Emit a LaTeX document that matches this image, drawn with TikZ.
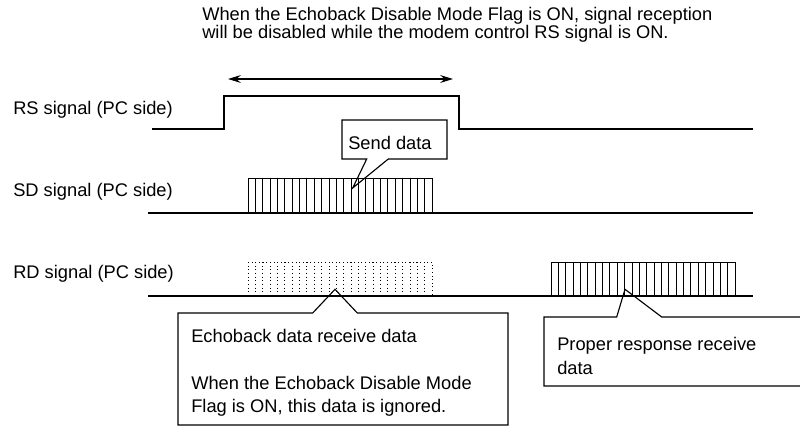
\documentclass[tikz,border=0pt]{standalone}
\usepackage{fontspec}
\setmainfont{Liberation Sans}
\usetikzlibrary{arrows.meta}

\begin{document}
\begin{tikzpicture}[x=0.025cm,y=-0.025cm,>={Stealth[length=9pt,width=5.5pt]},
  sig/.style={line width=1pt},
  bit/.style={line width=0.6pt},
  txt/.style={anchor=base west,inner sep=0pt,align=left,font=\fontsize{13pt}{16.5pt}\selectfont}]
\useasboundingbox (0,0) rectangle (800,426);
\clip (0,0) rectangle (800,426);
% note on top (placed at the baseline of its last line)
\node[txt,font=\fontsize{13pt}{12.8pt}\selectfont] (note) at (202,39)
  {When the Echoback Disable Mode Flag is ON, signal reception\\will be disabled while the modem control RS signal is ON.};
% signal names
\node[txt] (rs) at (13,115) {RS signal (PC side)};
\node[txt] (sd) at (13,196) {SD signal (PC side)};
\node[txt] (rd) at (13,278) {RD signal (PC side)};
% RS signal and its ON span
\draw[sig] (152,129) -- (224,129) -- (224,96) -- (459,96) -- (459,129) -- (753,129);
\coordinate (spanL) at (228,79); \coordinate (spanR) at (453,79);
\draw[<->,line width=1.2pt] (spanL) -- (spanR);
% SD signal
\draw[sig] (148,213) -- (753,213);
\draw[bit] (248,178) rectangle (432,213);
\foreach \k in {1,...,24} \draw[bit] ({248+7.36*\k},178) -- ({248+7.36*\k},213);
% RD signal: echo (dotted) and response
\draw[sig] (148,296) -- (753,296);
\draw[bit,dotted] (248,262) rectangle (432,296);
\foreach \k in {1,...,24} \draw[bit,dotted] ({248+7.36*\k},262) -- ({248+7.36*\k},296);
\draw[bit] (551,262) rectangle (735,296);
\foreach \k in {1,...,24} \draw[bit] ({551+7.36*\k},262) -- ({551+7.36*\k},296);
% callouts
\draw[line width=0.8pt] (342,120) -- (447,120) -- (447,159) -- (388.3,159) -- (352.7,188)
  -- (366.7,159) -- (342,159) -- cycle;
\node[txt] (send) at (348,150) {Send data};
\draw[line width=0.8pt] (178,313) -- (312.7,313) -- (335,289.3) -- (357.3,313) -- (508,313)
  -- (508,425) -- (178,425) -- cycle;
\node[txt] (echo) at (191,412.5)
  {Echoback data receive data\\[16.5pt]When the Echoback Disable Mode\\Flag is ON, this data is ignored.};
\draw[line width=0.8pt] (544,317) -- (616.7,317) -- (625,289.3) -- (661.7,317) -- (810,317)
  -- (810,386) -- (544,386) -- cycle;
\node[txt] (resp) at (557,374) {Proper response receive\\data};
\end{tikzpicture}
\end{document}
